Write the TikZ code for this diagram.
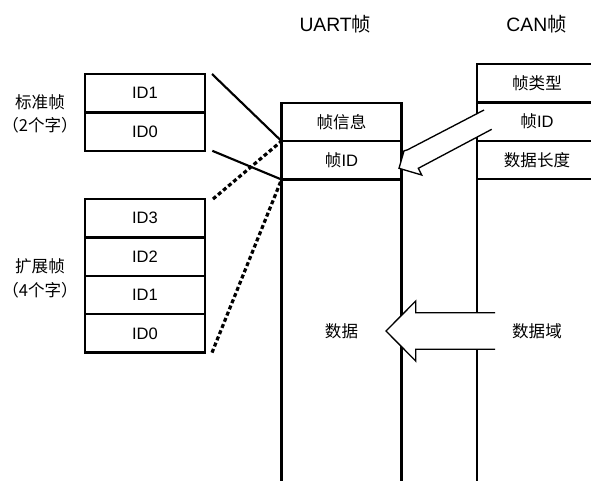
\documentclass[tikz,border=0pt]{standalone}
\usepackage{fontspec}
\setmainfont{Liberation Sans}
\newfontfamily\cjkfont{Noto Sans CJK SC}
\newcommand\zhtxt[1]{{\cjkfont #1}}
\begin{document}
\begin{tikzpicture}[x=0.75pt,y=-0.75pt,
  cell/.style={draw, line width=1.75pt, minimum width=90pt, minimum height=28.8pt,
    inner sep=0pt, outer sep=0pt, font=\fontsize{12.4}{14}\selectfont},
  lbl/.style={inner sep=0pt, font=\fontsize{12.4}{14}\selectfont},
  ttl/.style={inner sep=0pt, anchor=base, font=\fontsize{14.5}{16}\selectfont},
  link/.style={line width=1.6pt},
  dotlink/.style={line width=2.4pt, dash pattern=on 3pt off 2pt},
  arrowline/.style={line width=1pt, line join=miter}]
\useasboundingbox (0,0) rectangle (591,480);

% titles
\node[ttl] (tu) at (335.3,31.7) {UART\zhtxt{帧}};
\node[ttl] (tc) at (536.5,31.7) {CAN\zhtxt{帧}};

% left labels
\node[lbl] (std1) at (40,102) {\zhtxt{标准帧}};
\node[lbl] (std2) at (40,125.5) {\zhtxt{（2个字）}};
\node[lbl] (ext1) at (40,266.7) {\zhtxt{扩展帧}};
\node[lbl] (ext2) at (40,290) {\zhtxt{（4个字）}};

% standard frame id
\node[cell] (s1) at (145,93.2) {ID1};
\node[cell] (s0) at (145,131.6) {ID0};
% extended frame id
\node[cell] (e3) at (145,218.2) {ID3};
\node[cell] (e2) at (145,256.6) {ID2};
\node[cell] (e1) at (145,295.0) {ID1};
\node[cell] (e0) at (145,333.4) {ID0};

% UART frame
\node[cell] (u1) at (341.5,121.9) {\zhtxt{帧信息}};
\node[cell] (u2) at (341.5,160.3) {\zhtxt{帧}ID};
\node[cell, minimum height=227.6pt] (u3) at (341.5,331.25) {\zhtxt{数据}};

% CAN frame
\node[cell] (c1) at (537,83.2) {\zhtxt{帧类型}};
\node[cell] (c2) at (537,121.6) {\zhtxt{帧}ID};
\node[cell] (c3) at (537,160.0) {\zhtxt{数据长度}};
\node[cell, minimum height=227.85pt] (c4) at (537,331.1) {\zhtxt{数据域}};

% connectors
\draw[link] ([xshift=5.25pt]s1.north east) -- (u2.north west);
\draw[link] ([xshift=5.5pt]s0.south east) -- (u2.south west);
\draw[dotlink] ([xshift=6pt]e3.north east) -- (u2.north west);
\draw[dotlink] ([xshift=5.25pt]e0.south east) -- (u2.south west);

% diagonal hollow arrow (CAN frame ID -> UART frame ID)
\coordinate (da1) at (484,110);
\coordinate (da2) at (407.5,149.8);
\coordinate (da3) at (404,150.8);
\coordinate (datip) at (399,168.3);
\coordinate (da5) at (421.7,175);
\coordinate (da6) at (418.3,168.3);
\coordinate (da7) at (491.7,129.3);
\fill[white] (da1) -- (da2) -- (da3) -- (datip) -- (da5) -- (da6) -- (da7) -- cycle;
\draw[arrowline] (da1) -- (da2) -- (da3) -- (datip) -- (da5) -- (da6) -- (da7);

% horizontal hollow arrow (data field -> data)
\coordinate (ha1) at (495,312.7);
\coordinate (ha2) at (415.7,312.7);
\coordinate (ha3) at (415.7,301);
\coordinate (hatip) at (386,331);
\coordinate (ha5) at (415.7,361);
\coordinate (ha6) at (415.7,349.3);
\coordinate (ha7) at (495,349.3);
\fill[white] (ha1) -- (ha2) -- (ha3) -- (hatip) -- (ha5) -- (ha6) -- (ha7) -- cycle;
\draw[arrowline] (ha1) -- (ha2) -- (ha3) -- (hatip) -- (ha5) -- (ha6) -- (ha7);
\end{tikzpicture}
\end{document}
